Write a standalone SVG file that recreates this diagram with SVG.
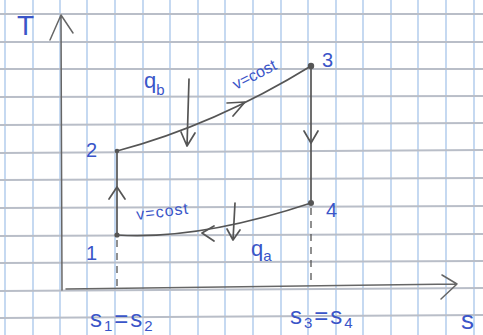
<svg xmlns="http://www.w3.org/2000/svg" width="483" height="335" viewBox="0 0 483 335">
<defs>
<style>
.gv{stroke:#9fc0e8;stroke-width:1.2}
.gh{stroke:#b9bec8;stroke-width:1.8}
.ln{fill:none;stroke:#555;stroke-width:1.7;stroke-linecap:round;stroke-linejoin:round}
.ax{fill:none;stroke:#666;stroke-width:1.5;stroke-linecap:round;stroke-linejoin:round}
.ds{fill:none;stroke:#555;stroke-width:1.3;stroke-dasharray:7 6}
.pt{fill:#555}
.t{font-family:"Liberation Sans",Arial,sans-serif;fill:#3a55c8;font-size:20px}
.s{font-size:15px}
.sm{font-size:16px}
.big{font-size:24px;letter-spacing:2px}
.tt{font-size:28px}
</style>
</defs>
<rect width="483" height="335" fill="#ffffff"/>
<g id="grid">
<line class="gv" x1="5" y1="0" x2="5" y2="335"/>
<line class="gv" x1="33" y1="0" x2="33" y2="335"/>
<line class="gv" x1="60" y1="0" x2="60" y2="335"/>
<line class="gv" x1="87" y1="0" x2="87" y2="335"/>
<line class="gv" x1="115" y1="0" x2="115" y2="335"/>
<line class="gv" x1="143" y1="0" x2="143" y2="335"/>
<line class="gv" x1="170" y1="0" x2="170" y2="335"/>
<line class="gv" x1="198" y1="0" x2="198" y2="335"/>
<line class="gv" x1="225" y1="0" x2="225" y2="335"/>
<line class="gv" x1="253" y1="0" x2="253" y2="335"/>
<line class="gv" x1="281" y1="0" x2="281" y2="335"/>
<line class="gv" x1="308" y1="0" x2="308" y2="335"/>
<line class="gv" x1="336" y1="0" x2="336" y2="335"/>
<line class="gv" x1="363" y1="0" x2="363" y2="335"/>
<line class="gv" x1="391" y1="0" x2="391" y2="335"/>
<line class="gv" x1="418" y1="0" x2="418" y2="335"/>
<line class="gv" x1="446" y1="0" x2="446" y2="335"/>
<line class="gv" x1="474" y1="0" x2="474" y2="335"/>
<line class="gh" x1="0" y1="14" x2="483" y2="14"/>
<line class="gh" x1="0" y1="42" x2="483" y2="42"/>
<line class="gh" x1="0" y1="69" x2="483" y2="69"/>
<line class="gh" x1="0" y1="97" x2="483" y2="96"/>
<line class="gh" x1="0" y1="125" x2="483" y2="123"/>
<line class="gh" x1="0" y1="153" x2="483" y2="150"/>
<line class="gh" x1="0" y1="180" x2="483" y2="178"/>
<line class="gh" x1="0" y1="208" x2="483" y2="206"/>
<line class="gh" x1="0" y1="236" x2="483" y2="234"/>
<line class="gh" x1="0" y1="263" x2="483" y2="261"/>
<line class="gh" x1="0" y1="291" x2="483" y2="288"/>
<line class="gh" x1="0" y1="318" x2="483" y2="315"/>
</g>
<g id="axes">
<path class="ax" d="M62,290 L61,15 M50,40 L61,15 L73,33"/>
<path class="ax" d="M66,289 L457,284 M442,275 L457,284 L441,299"/>
</g>
<g id="connectors">
<path class="ln" d="M117,235 L117,151"/>
<path class="ln" d="M109,199 L117,187 L125,199"/>
<path class="ln" d="M117,151 Q215,125 311,66"/>
<path class="ln" d="M227,103 L245,102 L233,116"/>
<path class="ln" d="M311,66 L311,203"/>
<path class="ln" d="M304,131 L311,143 L318,131"/>
<path class="ln" d="M311,203 Q200,240 117,235"/>
<path class="ln" d="M214,226 L202,233 L214,241"/>
<path class="ln" d="M189,79 L187,146 M181,132 L187,146 L195,133"/>
<path class="ln" d="M235,203 L233,240 M227,229 L233,240 L240,230"/>
<path class="ds" d="M117,240 L117,288"/>
<path class="ds" d="M311,208 L311,285"/>
</g>
<g id="n1"><circle class="pt" cx="117" cy="235" r="2.6"/><text class="t" x="86" y="260">1</text></g>
<g id="n2"><circle class="pt" cx="117" cy="151" r="2.3"/><text class="t" x="86" y="157">2</text></g>
<g id="n3"><circle class="pt" cx="311" cy="66" r="3.2"/><text class="t" x="322" y="67">3</text></g>
<g id="n4"><circle class="pt" cx="311" cy="203" r="3"/><text class="t" x="326" y="217">4</text></g>
<g id="labels">
<text class="t tt" x="17" y="35">T</text>
<text class="t" x="144" y="88" style="font-size:22px">q<tspan class="s" dy="7">b</tspan></text>
<text class="t" x="251" y="256" style="font-size:22px">q<tspan class="s" dy="5">a</tspan></text>
<text class="t sm" transform="translate(236,90) rotate(-27)">v=cost</text>
<text class="t sm" transform="translate(137,220) rotate(-7)" style="letter-spacing:1px">v=cost</text>
<text class="t big" x="90" y="327">s<tspan class="s" dy="4">1</tspan><tspan dy="-4">=s</tspan><tspan class="s" dy="4">2</tspan></text>
<text class="t big" x="290" y="324">s<tspan class="s" dy="4">3</tspan><tspan dy="-4">=s</tspan><tspan class="s" dy="4">4</tspan></text>
<text class="t" x="461" y="329" style="font-size:26px">s</text>
</g>
</svg>
